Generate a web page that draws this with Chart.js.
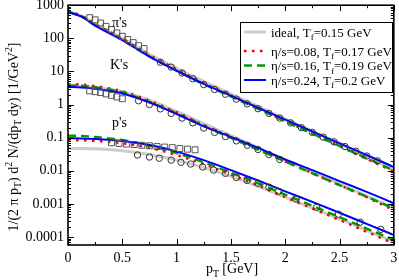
<!DOCTYPE html>
<html>
<head>
<meta charset="utf-8">
<script src="https://cdn.jsdelivr.net/npm/chart.js@4.4.1/dist/chart.umd.min.js"></script>
<style>
  html, body { margin: 0; padding: 0; background: #fff; }
</style>
</head>
<body>
<canvas id="spectra" width="399" height="280"></canvas>
<script>
// transverse momentum grid of the hydro curves [GeV]
const pT = [0, 0.125, 0.25, 0.5, 0.75, 1, 1.25, 1.5, 1.75, 2, 2.25, 2.5, 2.75, 3];

// pions
const pionIdeal  = [640, 470, 270, 100, 33, 12.5, 5.0, 2.1, 0.88, 0.37, 0.155, 0.064, 0.027, 0.011];
const pionEta008 = [650, 480, 265, 98, 31, 11.5, 4.4, 1.85, 0.78, 0.32, 0.135, 0.056, 0.023, 0.0095];
const pionEta016 = [640, 460, 250, 90, 28.5, 10.5, 4.1, 1.75, 0.74, 0.31, 0.132, 0.056, 0.024, 0.0102];
const pionEta024 = [620, 450, 240, 88, 28, 10.5, 4.2, 1.85, 0.80, 0.35, 0.155, 0.068, 0.030, 0.013];

// kaons
const kaonIdeal  = [3.6, 3.55, 3.3, 2.45, 1.35, 0.62, 0.265, 0.115, 0.05, 0.021, 0.0092, 0.0040, 0.00175, 0.00075];
const kaonEta008 = [4.1, 4.0, 3.6, 2.5, 1.3, 0.58, 0.24, 0.105, 0.046, 0.0195, 0.0085, 0.0037, 0.0016, 0.00065];
const kaonEta016 = [3.8, 3.7, 3.35, 2.35, 1.2, 0.53, 0.225, 0.098, 0.043, 0.019, 0.0084, 0.0037, 0.00165, 0.00072];
const kaonEta024 = [3.4, 3.3, 3.0, 2.15, 1.15, 0.52, 0.22, 0.105, 0.049, 0.022, 0.0105, 0.0049, 0.0023, 0.00105];

// protons
const protonIdeal  = [0.047, 0.047, 0.046, 0.040, 0.031, 0.021, 0.0125, 0.0068, 0.0034, 0.0016, 0.00075, 0.00035, 0.00016, 0.00007];
const protonEta008 = [0.085, 0.084, 0.080, 0.068, 0.050, 0.030, 0.016, 0.0077, 0.0036, 0.0016, 0.00073, 0.00033, 0.000145, 0.000064];
const protonEta016 = [0.115, 0.113, 0.105, 0.085, 0.058, 0.034, 0.018, 0.0088, 0.0042, 0.0019, 0.00088, 0.00040, 0.00018, 0.000082];
const protonEta024 = [0.096, 0.095, 0.092, 0.080, 0.060, 0.038, 0.021, 0.0105, 0.0051, 0.0024, 0.00115, 0.00054, 0.00025, 0.000115];

// measured points (squares: low pT set, circles: second set)
const pionSqPt  = [0.2, 0.25, 0.3, 0.35, 0.4, 0.45, 0.5, 0.55, 0.6, 0.65, 0.7];
const pionSqVal = [420, 360, 290, 230, 185, 145, 115, 92, 74, 60, 49];
const pionCirPt  = [0.85, 0.95, 1.05, 1.15, 1.25, 1.35, 1.45, 1.55, 1.65, 1.75, 1.85, 1.95, 2.05, 2.15, 2.25, 2.35, 2.45, 2.55, 2.65, 2.75, 2.85];
const pionCirVal = [19, 13.5, 9.0, 6.0, 4.0, 2.85, 2.05, 1.46, 1.05, 0.75, 0.54, 0.39, 0.28, 0.20, 0.145, 0.104, 0.075, 0.054, 0.039, 0.028, 0.020];

const kaonSqPt  = [0.2, 0.25, 0.3, 0.35, 0.4, 0.45, 0.5];
const kaonSqVal = [2.6, 2.45, 2.3, 2.1, 1.9, 1.7, 1.5];
const kaonCirPt  = [0.65, 0.75, 0.85, 0.95, 1.05, 1.15, 1.25, 1.35, 1.45, 1.55, 1.65, 1.75, 1.85, 1.95];
const kaonCirVal = [1.3, 1.0, 0.74, 0.54, 0.39, 0.28, 0.195, 0.145, 0.108, 0.080, 0.059, 0.044, 0.031, 0.022];

const protonSqPt  = [0.40, 0.47, 0.54, 0.61, 0.68, 0.75, 0.82, 0.89, 0.96, 1.03, 1.10, 1.17];
const protonSqVal = [0.070, 0.067, 0.064, 0.062, 0.059, 0.057, 0.054, 0.052, 0.050, 0.047, 0.045, 0.043];
const protonCirPt  = [0.64, 0.75, 0.84, 0.95, 1.04, 1.13, 1.24, 1.34, 1.45, 1.55, 1.65, 1.75, 1.85, 1.94, 2.10, 2.29, 2.49, 2.69, 2.88];
const protonCirVal = [0.030, 0.026, 0.024, 0.021, 0.018, 0.016, 0.013, 0.0105, 0.0084, 0.0063, 0.0051, 0.0042, 0.0032, 0.0024, 0.0014, 0.00079, 0.00049, 0.00028, 0.00017];

// axes
const xTicks = [0, 0.5, 1, 1.5, 2, 2.5, 3];
const xTickLabels = ['0', '0.5', '1', '1.5', '2', '2.5', '3'];
const yTicks = [0.0001, 0.001, 0.01, 0.1, 1, 10, 100, 1000];
const yTickLabels = ['0.0001', '0.001', '0.01', '0.1', '1', '10', '100', '1000'];

const legendLabels = [
    [{ t: 'ideal, T' }, { t: 'f', s: 'sub' }, { t: '=0.15 GeV' }],
    [{ t: 'η/s=0.08, T' }, { t: 'f', s: 'sub' }, { t: '=0.17 GeV' }],
    [{ t: 'η/s=0.16, T' }, { t: 'f', s: 'sub' }, { t: '=0.19 GeV' }],
    [{ t: 'η/s=0.24, T' }, { t: 'f', s: 'sub' }, { t: '=0.2 GeV' }]
];

const SERIF = '"Liberation Serif", "DejaVu Serif", serif';

const styles = [
    { color: '#cccccc', width: 3, dash: [] },
    { color: '#ff0000', width: 2.6, dash: [2.5, 5.5] },
    { color: '#009a00', width: 2.4, dash: [8, 5] },
    { color: '#0000ff', width: 2, dash: [] }
];

function pairs(xs, ys) {
    return xs.map((x, i) => ({ x: x, y: ys[i] }));
}

function curve(values, k) {
    const st = styles[k];
    return {
        data: pairs(pT, values),
        borderColor: st.color,
        borderWidth: st.width,
        borderDash: st.dash,
        pointRadius: 0,
        fill: false,
        cubicInterpolationMode: 'monotone'
    };
}

function markers(xs, ys, shape) {
    return {
        data: pairs(xs, ys),
        showLine: false,
        pointStyle: shape,
        pointRadius: shape === 'rect' ? 4.2 : 3.2,
        pointBorderColor: shape === 'rect' ? '#555555' : '#333333',
        pointBackgroundColor: 'rgba(0,0,0,0)',
        pointBorderWidth: 1
    };
}

// draw text with sub/superscripts
function richText(ctx, parts, x, y, size, align) {
    let w = 0;
    parts.forEach(p => {
        ctx.font = (p.s ? size * 0.7 : size) + 'px ' + SERIF;
        w += ctx.measureText(p.t).width;
    });
    let cx = align === 'center' ? x - w / 2 : x;
    parts.forEach(p => {
        const fs = p.s ? size * 0.7 : size;
        ctx.font = fs + 'px ' + SERIF;
        const dy = p.s === 'sub' ? size * 0.28 : (p.s === 'sup' ? -size * 0.42 : 0);
        ctx.fillText(p.t, cx, y + dy);
        cx += ctx.measureText(p.t).width;
    });
}

const decorations = {
    id: 'decorations',
    afterDraw(chart) {
        const ctx = chart.ctx;
        const a = chart.chartArea;
        const xs = chart.scales.x;
        const ys = chart.scales.y;
        ctx.save();
        ctx.strokeStyle = '#000';
        ctx.fillStyle = '#000';

        // inward ticks, all four sides
        ctx.lineWidth = 1;
        ctx.beginPath();
        for (let v = 0; v <= 3.0001; v += 0.25) {
            const px = Math.round(xs.getPixelForValue(v)) + 0.5;
            const len = Math.abs(v * 2 - Math.round(v * 2)) < 1e-6 ? 6 : 3;
            ctx.moveTo(px, a.bottom); ctx.lineTo(px, a.bottom - len);
            ctx.moveTo(px, a.top); ctx.lineTo(px, a.top + len);
        }
        for (let e = -5; e <= 3; e++) {
            for (let k = 1; k <= 9; k++) {
                const v = k * Math.pow(10, e);
                if (v < ys.min || v > ys.max) continue;
                const py = Math.round(ys.getPixelForValue(v)) + 0.5;
                const len = k === 1 ? 6 : 3;
                ctx.moveTo(a.left, py); ctx.lineTo(a.left + len, py);
                ctx.moveTo(a.right, py); ctx.lineTo(a.right - len, py);
            }
        }
        ctx.stroke();

        // frame
        ctx.lineWidth = 1.6;
        ctx.strokeRect(a.left, a.top, a.right - a.left, a.bottom - a.top);

        // species labels
        ctx.textBaseline = 'alphabetic';
        ctx.font = '14px ' + SERIF;
        ctx.fillText("π's", 112, 27);
        ctx.fillText("K's", 110, 69);
        ctx.fillText("p's", 112, 127);

        // legend
        const box = { l: 240.5, t: 22.5, r: 392.5, b: 92.5 };
        ctx.fillStyle = '#fff';
        ctx.fillRect(box.l, box.t, box.r - box.l, box.b - box.t);
        ctx.lineWidth = 1;
        ctx.strokeStyle = '#000';
        ctx.strokeRect(box.l, box.t, box.r - box.l, box.b - box.t);
        const rows = [32, 51, 65.5, 80];
        rows.forEach((ry, i) => {
            const st = styles[i];
            ctx.save();
            ctx.strokeStyle = st.color;
            ctx.lineWidth = st.width;
            ctx.setLineDash(st.dash);
            ctx.beginPath();
            ctx.moveTo(244, ry); ctx.lineTo(266, ry);
            ctx.stroke();
            ctx.restore();
            ctx.fillStyle = '#000';
            richText(ctx, legendLabels[i], 271, ry + 4.5, 13, 'left');
        });

        // axis titles
        ctx.fillStyle = '#000';
        richText(ctx, [{ t: 'p' }, { t: 'T', s: 'sub' }, { t: ' [GeV]' }], 232, 273, 14, 'center');
        ctx.save();
        ctx.translate(17.5, 137);
        ctx.rotate(-Math.PI / 2);
        richText(ctx, [
            { t: '1/(2 π p' }, { t: 'T', s: 'sub' }, { t: ') d' }, { t: '2', s: 'sup' },
            { t: ' N/(dp' }, { t: 'T', s: 'sub' }, { t: ' dy) [1/GeV' }, { t: '2', s: 'sup' }, { t: ']' }
        ], 0, 0, 14, 'center');
        ctx.restore();
        ctx.restore();
    }
};

const datasets = [
    markers(pionSqPt, pionSqVal, 'rect'),
    markers(kaonSqPt, kaonSqVal, 'rect'),
    markers(protonSqPt, protonSqVal, 'rect'),
    markers(pionCirPt, pionCirVal, 'circle'),
    markers(kaonCirPt, kaonCirVal, 'circle'),
    markers(protonCirPt, protonCirVal, 'circle'),
    curve(pionEta024, 3), curve(kaonEta024, 3), curve(protonEta024, 3),
    curve(pionEta016, 2), curve(kaonEta016, 2), curve(protonEta016, 2),
    curve(pionEta008, 1), curve(kaonEta008, 1), curve(protonEta008, 1),
    curve(pionIdeal, 0), curve(kaonIdeal, 0), curve(protonIdeal, 0)
];

new Chart(document.getElementById('spectra').getContext('2d'), {
    type: 'line',
    data: { datasets: datasets },
    options: {
        responsive: false,
        animation: false,
        devicePixelRatio: 1,
        layout: { padding: { left: 0, right: 4, top: 5, bottom: 0 } },
        plugins: { legend: { display: false }, tooltip: { enabled: false } },
        scales: {
            x: {
                type: 'linear',
                min: 0,
                max: 3,
                grid: { display: false, drawTicks: false },
                border: { display: false },
                ticks: {
                    padding: 5,
                    color: '#000',
                    font: { family: SERIF, size: 14 },
                    callback: (v) => {
                        const i = xTicks.findIndex(t => Math.abs(t - v) < 1e-6);
                        return i >= 0 ? xTickLabels[i] : '';
                    }
                },
                afterBuildTicks: (s) => { s.ticks = xTicks.map(v => ({ value: v })); },
                afterFit: (s) => { s.height = 35; s.paddingLeft = 0; s.paddingRight = 0; }
            },
            y: {
                type: 'logarithmic',
                min: 5.75e-5,
                max: 1000,
                grid: { display: false, drawTicks: false },
                border: { display: false },
                ticks: {
                    padding: 4,
                    color: '#000',
                    font: { family: SERIF, size: 14 },
                    callback: (v) => {
                        const i = yTicks.findIndex(t => Math.abs(Math.log10(t) - Math.log10(v)) < 1e-6);
                        return i >= 0 ? yTickLabels[i] : '';
                    }
                },
                afterBuildTicks: (s) => { s.ticks = yTicks.map(v => ({ value: v })); },
                afterFit: (s) => { s.width = 68; s.paddingTop = 0; s.paddingBottom = 0; }
            }
        }
    },
    plugins: [decorations]
});
</script>
</body>
</html>
